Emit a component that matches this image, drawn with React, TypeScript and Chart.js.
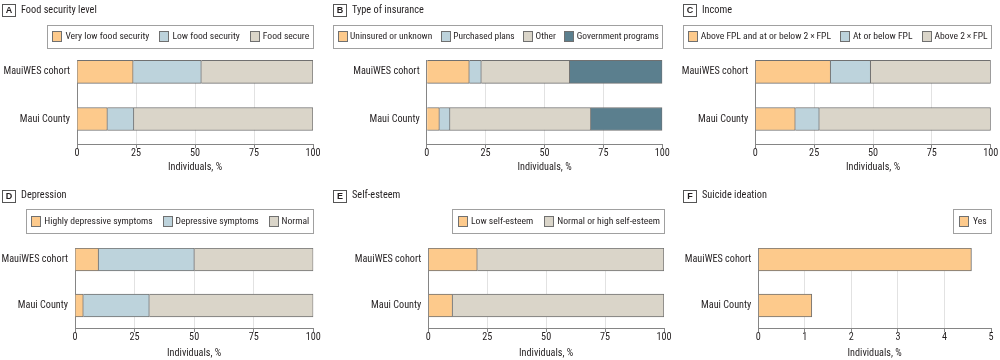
import React, { useEffect, useRef } from "react";
import { Chart, registerables } from "chart.js";

Chart.register(...registerables);

// ---------- data ----------
const categories = ["MauiWES cohort", "Maui County"];

const foodLabels = ["Very low food security", "Low food security", "Food secure"];
const foodVeryLow = [23.8, 12.9];
const foodLow = [28.9, 11.2];
const foodSecure = [47.3, 75.9];

const insuranceLabels = ["Uninsured or unknown", "Purchased plans", "Other", "Government programs"];
const insUninsured = [18.1, 5.4];
const insPurchased = [5.1, 4.5];
const insOther = [37.5, 59.8];
const insGovernment = [39.3, 30.3];

const incomeLabels = ["Above FPL and at or below 2\u2009×\u2009FPL", "At or below FPL", "Above 2\u2009×\u2009FPL"];
const incAboveTo2x = [32.0, 17.0];
const incAtOrBelow = [17.0, 10.2];
const incAbove2x = [51.0, 72.8];

const depressionLabels = ["Highly depressive symptoms", "Depressive symptoms", "Normal"];
const depHighly = [9.9, 3.5];
const depSymptoms = [40.2, 27.7];
const depNormal = [49.9, 68.8];

const esteemLabels = ["Low self-esteem", "Normal or high self-esteem"];
const esteemLow = [20.8, 10.3];
const esteemNormal = [79.2, 89.7];

const suicideLabels = ["Yes"];
const suicideYes = [4.58, 1.15];

const ticksPct = [0, 25, 50, 75, 100];
const ticksSuicide = [0, 1, 2, 3, 4, 5];
const axisTitle = "Individuals, %";

// ---------- styles ----------
const FONT = "'Roboto Condensed', 'DejaVu Sans Condensed', sans-serif";
const FS = 10.2;
const LEGEND_FS = 9.6;
const TEXT = "#231f20";
const ORANGE = "#fdca8c";
const BLUE = "#bdd3dc";
const BEIGE = "#dad5c9";
const TEAL = "#5b7f8e";
const AXIS = "#858585";
const GRID = "#e2e2e2";
const BAR_EDGE = "#707070";

type Panel = {
  letter: string;
  title: string;
  labels: string[];
  series: number[][];
  colors: string[];
  xMax: number;
  xTicks: number[];
  left: number;
  top: number;
  width: number;
  height: number;
  plotLeft: number;
  plotRight: number;
  plotTop: number;
  plotBottom: number;
  yMin: number;
  yMax: number;
  legendLeft: number;
  legendTop: number;
  legendBottom: number;
  headerY: number;
  titlePad: number;
};

const topRow = { top: 0, height: 180, plotTop: 60, plotBottom: 144, yMin: -0.25, yMax: 1.53, legendTop: 25, legendBottom: 48, headerY: 10, titlePad: 6 };
const bottomRow = { top: 180, height: 180, plotTop: 68, plotBottom: 148, yMin: -0.25, yMax: 1.49, legendTop: 29, legendBottom: 53, headerY: 15.5, titlePad: 0 };

const panels: Panel[] = [
  { ...topRow, letter: "A", title: "Food security level", labels: foodLabels, series: [foodVeryLow, foodLow, foodSecure], colors: [ORANGE, BLUE, BEIGE], xMax: 100, xTicks: ticksPct, left: 0, width: 331, plotLeft: 77, plotRight: 313, legendLeft: 46.7 },
  { ...topRow, letter: "B", title: "Type of insurance", labels: insuranceLabels, series: [insUninsured, insPurchased, insOther, insGovernment], colors: [ORANGE, BLUE, BEIGE, TEAL], xMax: 100, xTicks: ticksPct, left: 331, width: 350, plotLeft: 95.7, plotRight: 331.3, legendLeft: 2.3 },
  { ...topRow, letter: "C", title: "Income", labels: incomeLabels, series: [incAboveTo2x, incAtOrBelow, incAbove2x], colors: [ORANGE, BLUE, BEIGE], xMax: 100, xTicks: ticksPct, left: 681, width: 319, plotLeft: 74.3, plotRight: 309.7, legendLeft: 2.3 },
  { ...bottomRow, letter: "D", title: "Depression", labels: depressionLabels, series: [depHighly, depSymptoms, depNormal], colors: [ORANGE, BLUE, BEIGE], xMax: 100, xTicks: ticksPct, left: 0, width: 331, plotLeft: 75, plotRight: 313.3, legendLeft: 25.7 },
  { ...bottomRow, letter: "E", title: "Self-esteem", labels: esteemLabels, series: [esteemLow, esteemNormal], colors: [ORANGE, BEIGE], xMax: 100, xTicks: ticksPct, left: 331, width: 350, plotLeft: 97.3, plotRight: 333, legendLeft: 121.3 },
  { ...bottomRow, letter: "F", title: "Suicide ideation", labels: suicideLabels, series: [suicideYes], colors: [ORANGE], xMax: 5, xTicks: ticksSuicide, left: 681, width: 319, plotLeft: 77.3, plotRight: 310, legendLeft: 271.7 },
];

// ---------- plugins ----------
const boxLegend = {
  id: "boxLegend",
  afterDraw(chart: any, _args: any, opts: any) {
    const ctx = chart.ctx as CanvasRenderingContext2D;
    const top = opts.top as number;
    const bottom = opts.bottom as number;
    const items = chart.data.datasets.map((ds: any) => ({ label: ds.label as string, color: ds.backgroundColor as string }));
    const n = items.length;
    const sw = 10, sh = 11;
    const right = Math.round(chart.chartArea.right);
    const left = Math.round(opts.left as number);
    const avail = right - left;
    ctx.save();
    // pick a font size that fits the box with at least minimal gaps
    let fs = LEGEND_FS;
    let widths: number[] = [];
    for (; fs >= 8; fs -= 0.1) {
      ctx.font = `${fs}px ${FONT}`;
      widths = items.map((it: any) => ctx.measureText(it.label).width);
      const textTotal = widths.reduce((a, b) => a + b, 0);
      const minFixed = 5 + 4 + n * (sw + 2.5) + (n - 1) * 8;
      if (textTotal + minFixed <= avail) break;
    }
    const textTotal = widths.reduce((a, b) => a + b, 0);
    // base gaps, scaled to fill the box exactly
    const base = { padL: 6.5, gapT: 3.5, gapI: 12, padR: 4.5 };
    const baseSum = base.padL + base.padR + n * base.gapT + (n - 1) * base.gapI;
    const extra = avail - textTotal - n * sw;
    const k = Math.max(0.6, Math.min(1.6, extra / baseSum));
    const padL = base.padL * k, gapT = base.gapT * k, gapI = base.gapI * k;
    ctx.strokeStyle = "#a0a0a0";
    ctx.lineWidth = 1;
    ctx.strokeRect(left + 0.5, top + 0.5, right - left, bottom - top);
    const cy = (top + bottom) / 2;
    let x = left + padL;
    items.forEach((it: any, i: number) => {
      const sy = Math.round(cy - sh / 2);
      const sx = Math.round(x);
      ctx.fillStyle = it.color;
      ctx.fillRect(sx, sy, sw, sh);
      ctx.strokeStyle = BAR_EDGE;
      ctx.strokeRect(sx + 0.5, sy + 0.5, sw - 1, sh - 1);
      ctx.fillStyle = TEXT;
      ctx.textBaseline = "middle";
      ctx.textAlign = "left";
      ctx.fillText(it.label, x + sw + gapT, cy + 0.5);
      x += sw + gapT + widths[i] + gapI;
    });
    ctx.restore();
  },
};

const panelHeader = {
  id: "panelHeader",
  afterDraw(chart: any, _args: any, opts: any) {
    const ctx = chart.ctx as CanvasRenderingContext2D;
    const cy = opts.y as number;
    ctx.save();
    ctx.strokeStyle = "#555";
    ctx.lineWidth = 1;
    ctx.strokeRect(2.5, Math.round(cy - 6) + 0.5, 13, 12);
    ctx.fillStyle = TEXT;
    ctx.font = "bold 9px 'Liberation Sans', Arial, sans-serif";
    ctx.textAlign = "center";
    ctx.textBaseline = "middle";
    ctx.fillText(opts.letter, 9, Math.round(cy - 6) + 7);
    ctx.font = `10.3px ${FONT}`;
    ctx.textAlign = "left";
    ctx.fillText(opts.title, 21, cy);
    ctx.restore();
  },
};

function PanelChart({ p }: { p: Panel }) {
  const ref = useRef<HTMLCanvasElement | null>(null);
  useEffect(() => {
    if (!ref.current) return;
    const datasets = p.series.map((vals, i) => ({
      label: p.labels[i],
      data: vals.map((v, j) => ({ x: v, y: j })),
      backgroundColor: p.colors[i],
      borderColor: BAR_EDGE,
      borderWidth: { top: 1, right: 1, bottom: 1, left: 0 },
      borderSkipped: false,
      barThickness: 23,
    }));
    const chart = new Chart(ref.current, {
      type: "bar",
      data: { datasets } as any,
      plugins: [boxLegend, panelHeader],
      options: {
        animation: false,
        responsive: false,
        indexAxis: "y",
        layout: { padding: { left: 0, right: p.width - p.plotRight, top: p.plotTop, bottom: 0 } },
        plugins: {
          legend: { display: false },
          tooltip: { enabled: false },
          title: { display: false },
          boxLegend: { left: p.legendLeft, top: p.legendTop, bottom: p.legendBottom },
          panelHeader: { letter: p.letter, title: p.title, y: p.headerY },
        } as any,
        scales: {
          x: {
            type: "linear",
            position: "bottom",
            stacked: true,
            min: 0,
            max: p.xMax,
            afterBuildTicks: (s: any) => { s.ticks = p.xTicks.map((v) => ({ value: v })); },
            afterFit: (s: any) => { s.height = p.height - p.plotBottom; s.paddingLeft = 0; s.paddingRight = 0; },
            grid: {
              color: (c: any) => (c.tick && (c.tick.value === 0 || c.tick.value === p.xMax) ? "rgba(0,0,0,0)" : GRID),
              tickColor: AXIS,
              tickLength: 4,
              lineWidth: 1,
            },
            border: { display: true, color: AXIS, width: 1 },
            ticks: { color: TEXT, font: { family: FONT, size: FS, lineHeight: 1 }, padding: 0, maxRotation: 0, autoSkip: false },
            title: { display: true, text: axisTitle, color: TEXT, font: { family: FONT, size: FS, lineHeight: 1.2 }, padding: { top: 0, bottom: p.titlePad } },
          },
          y: {
            type: "linear",
            position: "left",
            stacked: true,
            reverse: true,
            offset: false,
            min: p.yMin,
            max: p.yMax,
            afterBuildTicks: (s: any) => { s.ticks = categories.map((_, i) => ({ value: i })); },
            afterFit: (s: any) => { s.width = p.plotLeft; s.paddingTop = 0; s.paddingBottom = 0; },
            grid: { display: false, drawTicks: false, offset: false },
            border: { display: true, color: AXIS, width: 1 },
            ticks: { color: TEXT, font: { family: FONT, size: FS }, padding: 7, callback: (v: any) => categories[v as number] ?? "" },
          },
        },
      } as any,
    });
    return () => chart.destroy();
  }, [p]);
  return (
    <canvas
      ref={ref}
      width={p.width}
      height={p.height}
      style={{ position: "absolute", left: p.left, top: p.top, width: p.width, height: p.height }}
    />
  );
}

export default function App() {
  useEffect(() => {
    document.body.style.margin = "0";
    document.body.style.background = "#fff";
  }, []);
  return (
    <div style={{ position: "relative", width: 1000, height: 360, background: "#fff", overflow: "hidden" }}>
      {panels.map((p) => (
        <PanelChart key={p.letter} p={p} />
      ))}
    </div>
  );
}
